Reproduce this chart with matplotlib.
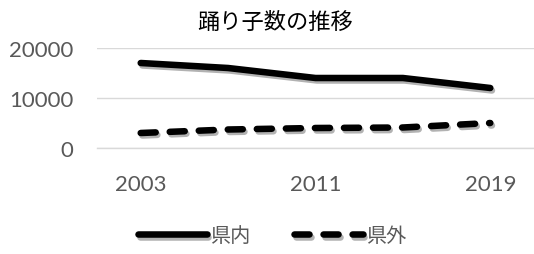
import matplotlib
matplotlib.use("Agg")
import matplotlib.pyplot as plt
import matplotlib.patheffects as pe

plt.rcParams['font.family'] = ['Lato', 'Noto Sans CJK JP', 'DejaVu Sans']

years = ['2003', '2007', '2011', '2015', '2019']
kennai = [17000, 16000, 14000, 14000, 12000]
kengai = [3000, 3700, 4000, 4100, 5000]

fig = plt.figure(figsize=(5.34, 2.55), dpi=100)
ax = fig.add_axes([97 / 534, 1 - 149 / 255, 437 / 534, 100 / 255])

x = range(len(years))
shadow = [pe.SimpleLineShadow(offset=(1.2, -1.8), alpha=0.3), pe.Normal()]
ax.plot(x, kennai, color='black', lw=4.7, solid_capstyle='round',
        label='県内', path_effects=shadow)
ax.plot(x, kengai, color='black', lw=4.7, linestyle=(0, (2.3, 2.15)),
        dash_capstyle='round', label='県外', path_effects=shadow)

ax.set_xlim(-0.5, len(years) - 0.5)
ax.set_ylim(0, 20000)
ax.set_yticks([0, 10000, 20000])
ax.set_xticks([0, 2, 4])
ax.set_xticklabels([years[0], years[2], years[4]])
ax.tick_params(length=0, labelsize=16, labelcolor='#595959')
ax.tick_params(axis='x', pad=19)
ax.tick_params(axis='y', pad=17)
ax.yaxis.grid(True, color='#d9d9d9', lw=1)
ax.set_axisbelow(True)
for s in ax.spines.values():
    s.set_visible(False)
ax.spines['bottom'].set_visible(True)
ax.spines['bottom'].set_color('#d9d9d9')
ax.spines['bottom'].set_linewidth(1)

fig.text(275 / 534, 1 - 22 / 255, '踊り子数の推移', fontsize=16, color='black',
         ha='center', va='center', family=['Noto Sans CJK JP'])
fig.legend(loc='center', bbox_to_anchor=(272 / 534, 1 - 237 / 255), ncol=2,
           frameon=False, handlelength=3.4, columnspacing=2.2,
           handletextpad=0.15, labelcolor='#595959',
           prop={'family': ['Noto Sans CJK JP'], 'size': 14.5})

fig.savefig('out.png', dpi=100)
